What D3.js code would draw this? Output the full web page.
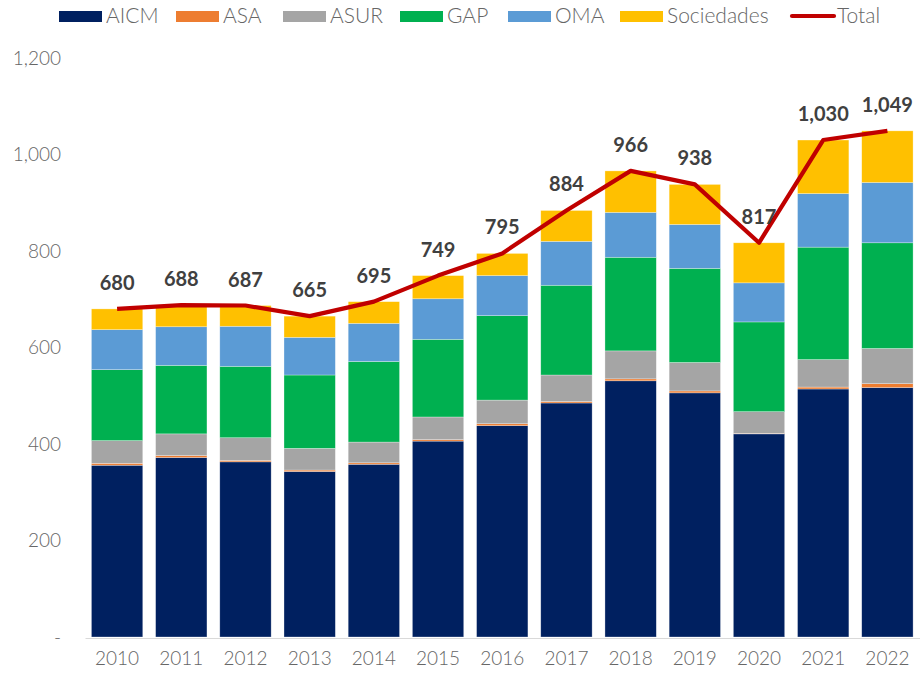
<!DOCTYPE html>
<html><head><meta charset="utf-8">
<script src="https://cdn.jsdelivr.net/npm/d3@7"></script>
<style>body{margin:0;background:#fff}svg{display:block}</style>
</head><body>
<svg id="c" width="920" height="675"></svg>
<script>
const years = ["2010","2011","2012","2013","2014","2015","2016","2017","2018","2019","2020","2021","2022"];
const seriesNames = ["AICM","ASA","ASUR","GAP","OMA","Sociedades"];
const AICM = [356,372,363,343,358,406,438,485,531,506,421,514,517];
const ASA = [4,4,3,3,3,3,4,3,4,4,1,4,8];
const ASUR = [47,45,47,45,43,47,49,55,58,59,45,57,73];
const GAP = [147,142,148,152,167,161,175,186,194,195,186,233,219];
const OMA = [83,80,83,78,79,84,83,91,93,91,81,111,125];
const Sociedades = [43,45,43,44,45,48,46,64,86,83,83,111,107];
const Total = [680,688,687,665,695,749,795,884,966,938,817,1030,1049];
const yTicks = [0,200,400,600,800,1000,1200];
const colors = {AICM:"#002060",ASA:"#ED7D31",ASUR:"#A5A5A5",GAP:"#00B050",OMA:"#5B9BD5",Sociedades:"#FFC000"};
const lineColor = "#C00000";

const svals = {AICM,ASA,ASUR,GAP,OMA,Sociedades};
const table = years.map((y,i)=>{const o={year:y};seriesNames.forEach(s=>o[s]=svals[s][i]);return o;});
const stack = d3.stack().keys(seriesNames)(table);

const svg = d3.select("#c");
const x = d3.scaleBand().domain(years).range([85,919.5]).paddingInner(0.2).paddingOuter(0.1);
const y = d3.scaleLinear().domain([0,1200]).range([637,58]);
const font = "Lato,'Open Sans',sans-serif";
const textGray = "#666666";

// bars
svg.append("g").selectAll("g").data(stack).join("g")
  .attr("fill", d=>colors[d.key])
  .selectAll("rect").data(d=>d).join("rect")
  .attr("x", d=>x(d.data.year))
  .attr("width", x.bandwidth())
  .attr("y", d=>y(d[1]))
  .attr("height", d=>Math.max(0,y(d[0])-y(d[1])))
  .attr("stroke","#ffffff").attr("stroke-opacity",0.5).attr("stroke-width",0.6);

// x axis
const xAxis = svg.append("g").attr("transform","translate(0,638)")
  .call(d3.axisBottom(x).tickSize(0).tickPadding(14));
xAxis.select(".domain").attr("stroke","#D9D9D9").attr("stroke-width",1.2);
xAxis.selectAll("text").attr("font-family",font).attr("font-weight",300).attr("font-size",19).attr("fill",textGray);

// y axis
const yAxis = svg.append("g").attr("transform","translate(61,0)")
  .call(d3.axisLeft(y).tickValues(yTicks).tickSize(0).tickPadding(0)
    .tickFormat(d=>d===0?"-":d3.format(",")(d)));
yAxis.select(".domain").remove();
yAxis.selectAll("text").attr("font-family",font).attr("font-weight",300).attr("font-size",19).attr("fill",textGray);

// total line
const cx = d=>x(d)+x.bandwidth()/2;
svg.append("path").datum(Total)
  .attr("fill","none").attr("stroke",lineColor).attr("stroke-width",4.2).attr("stroke-linejoin","round")
  .attr("d", d3.line().x((d,i)=>cx(years[i])).y(d=>y(d)));

svg.append("g").selectAll("text").data(Total).join("text")
  .attr("x",(d,i)=>cx(years[i])).attr("y",d=>y(d)-19)
  .attr("text-anchor","middle").attr("font-family",font)
  .attr("font-weight","bold").attr("font-size",20).attr("fill","#404040")
  .text(d=>d3.format(",")(d));

// legend
const legendItems = [
  {name:"AICM",x:59},{name:"ASA",x:176},{name:"ASUR",x:283},{name:"GAP",x:400},
  {name:"OMA",x:508},{name:"Sociedades",x:620},{name:"Total",x:790,line:true}];
const lg = svg.append("g");
legendItems.forEach(it=>{
  if(it.line){
    lg.append("line").attr("x1",it.x+2).attr("x2",it.x+44).attr("y1",16).attr("y2",16)
      .attr("stroke",lineColor).attr("stroke-width",4.2).attr("stroke-linecap","round");
  } else {
    lg.append("rect").attr("x",it.x).attr("y",11).attr("width",43).attr("height",11).attr("fill",colors[it.name]);
  }
  lg.append("text").attr("x",it.x+47).attr("y",22.5).attr("font-family",font).attr("font-weight",300)
    .attr("font-size",21).attr("fill",textGray).text(it.name);
});
</script>
</body></html>
